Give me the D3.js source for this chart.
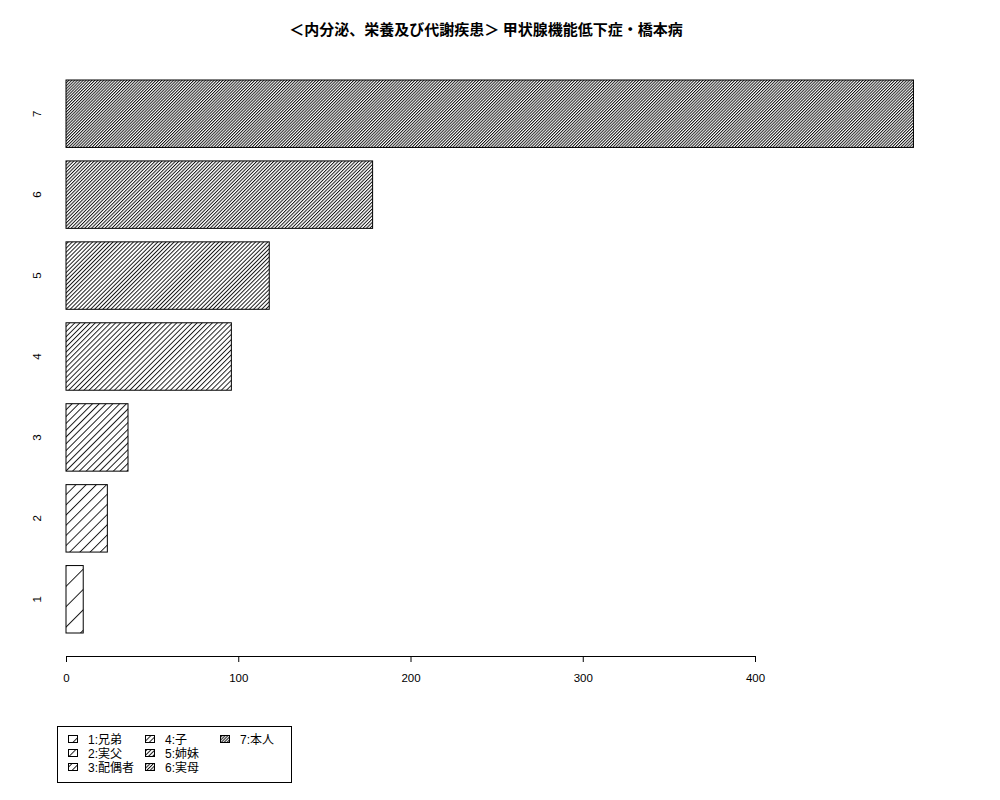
<!DOCTYPE html>
<html>
<head>
<meta charset="utf-8">
<script src="https://cdn.jsdelivr.net/npm/d3@7"></script>
<style>
  body { margin: 0; background: #fff; }
  text { font-family: "Liberation Sans", "Noto Sans CJK JP", sans-serif; }
</style>
</head>
<body>
<div id="chart"></div>
<script>
// bar categories (bottom to top) and their counts
var categories = ["1", "2", "3", "4", "5", "6", "7"];
var values = [10, 24, 36, 96, 118, 178, 492];
// hatch density (lines per inch, R style)
var densities = [5, 10, 15, 20, 25, 30, 35];
var legendLabels = ["1:兄弟", "2:実父", "3:配偶者", "4:子", "5:姉妹", "6:実母", "7:本人"];
var xTicks = [0, 100, 200, 300, 400];
var title = "＜内分泌、栄養及び代謝疾患＞ 甲状腺機能低下症・橋本病";

var width = 1000, height = 800;

var svg = d3.select("#chart")
    .append("svg")
    .attr("width", width)
    .attr("height", height);

// one hatch pattern per density
var defs = svg.append("defs");
densities.forEach(function(d, i) {
    var gap = 72 / d;
    var p = defs.append("pattern")
        .attr("id", "hatch" + i)
        .attr("patternUnits", "userSpaceOnUse")
        .attr("width", gap)
        .attr("height", 20)
        .attr("patternTransform", "rotate(45)");
    p.append("rect")
        .attr("width", gap).attr("height", 20)
        .attr("fill", "#fff");
    p.append("line")
        .attr("x1", 0.5).attr("y1", 0)
        .attr("x2", 0.5).attr("y2", 20)
        .attr("stroke", "#000")
        .attr("stroke-width", 0.9);
});

var x = d3.scaleLinear()
    .domain([0, 400])
    .range([66, 755]);

var y = d3.scaleBand()
    .domain(categories.slice().reverse())
    .range([80, 633])
    .paddingInner(1 / 6)
    .paddingOuter(0);

// bars
svg.append("g")
    .selectAll("rect")
    .data(values)
    .enter()
    .append("rect")
    .attr("x", x(0))
    .attr("y", function(d, i) { return y(categories[i]); })
    .attr("width", function(d) { return x(d) - x(0); })
    .attr("height", y.bandwidth())
    .attr("fill", function(d, i) { return "url(#hatch" + i + ")"; })
    .attr("stroke", "#000")
    .attr("stroke-width", 1);

// x axis
var xAxis = svg.append("g")
    .attr("transform", "translate(0,656)")
    .call(d3.axisBottom(x).tickValues(xTicks).tickSize(6).tickPadding(12)
        .tickFormat(d3.format("d")));
xAxis.selectAll("path, line").attr("stroke", "#000");
xAxis.selectAll("text")
    .attr("fill", "#000")
    .style("font-size", "11.5px")
    .style("font-family", "Liberation Sans, sans-serif");

// y labels, rotated like R's las=0
svg.append("g")
    .selectAll("text")
    .data(categories)
    .enter()
    .append("text")
    .attr("transform", function(d) {
        return "translate(41," + (y(d) + y.bandwidth() / 2) + ") rotate(-90)";
    })
    .attr("text-anchor", "middle")
    .style("font-size", "11.5px")
    .text(function(d) { return d; });

// title
svg.append("text")
    .attr("x", 486)
    .attr("y", 35)
    .attr("text-anchor", "middle")
    .style("font-size", "15px")
    .style("font-weight", "bold")
    .style("font-family", "Noto Sans CJK JP, sans-serif")
    .text(title);

// legend
var lg = svg.append("g");
lg.append("rect")
    .attr("x", 57.5).attr("y", 726.5)
    .attr("width", 234).attr("height", 56)
    .attr("fill", "none")
    .attr("stroke", "#000");

var colX = [68, 145, 220];
var rowY = [740, 754, 768];
legendLabels.forEach(function(label, i) {
    var cx = colX[Math.floor(i / 3)];
    var cy = rowY[i % 3];
    lg.append("rect")
        .attr("x", cx + 0.5).attr("y", cy - 4.5)
        .attr("width", 9).attr("height", 7)
        .attr("fill", "url(#hatch" + i + ")")
        .attr("stroke", "#000");
    lg.append("text")
        .attr("x", cx + 20)
        .attr("y", cy + 4)
        .style("font-size", "12px")
        .style("font-family", "Liberation Sans, Noto Sans CJK JP, sans-serif")
        .text(label);
});
</script>
</body>
</html>
